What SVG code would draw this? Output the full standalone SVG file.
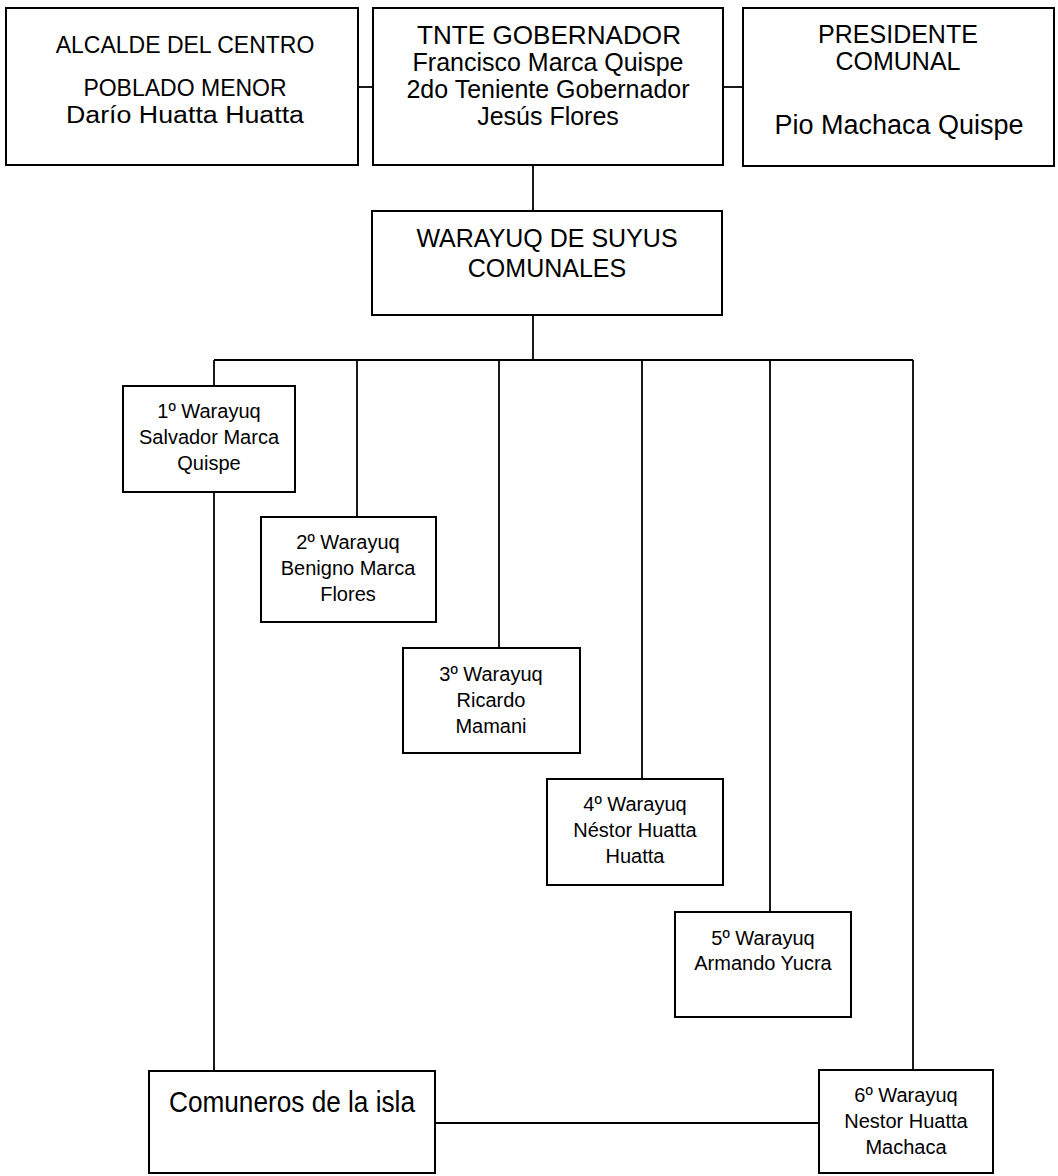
<svg xmlns="http://www.w3.org/2000/svg" width="1058" height="1176" viewBox="0 0 1058 1176">
<style>
.box{fill:#fff;stroke:#000;stroke-width:2}
.ln{fill:none;stroke:#000;stroke-width:1.8}
text{font-family:"Liberation Sans",Arial,sans-serif;fill:#000;text-anchor:middle}
.t1{font-size:23px}
.t2{font-size:25px}
.tp{font-size:27px}
.tw{font-size:20px}
.tc{font-size:30px}
</style>
<rect width="1058" height="1176" fill="#fff"/>
<g id="connectors">
<path class="ln" d="M358 87H373"/>
<path class="ln" d="M723 87H743"/>
<path class="ln" d="M533 165V211"/>
<path class="ln" d="M533 315V360"/>
<path class="ln" d="M214 360H913"/>
<path class="ln" d="M214 360V1071"/>
<path class="ln" d="M357 360V517"/>
<path class="ln" d="M499 360V648"/>
<path class="ln" d="M642 360V779"/>
<path class="ln" d="M770 360V912"/>
<path class="ln" d="M913 360V1070"/>
<path class="ln" d="M435 1123H819"/>
</g>
<g id="alcalde">
<rect class="box" x="6" y="8" width="352" height="157"/>
<text class="t1" x="185" y="53">ALCALDE DEL CENTRO</text>
<text class="t1" x="185" y="96">POBLADO MENOR</text>
<text class="t1" x="185" y="123" textLength="238" lengthAdjust="spacingAndGlyphs">Darío Huatta Huatta</text>
</g>
<g id="gobernador">
<rect class="box" x="373" y="8" width="350" height="157"/>
<text class="t2" x="549" y="44" textLength="264" lengthAdjust="spacingAndGlyphs">TNTE GOBERNADOR</text>
<text class="t2" x="548" y="71">Francisco Marca Quispe</text>
<text class="t2" x="548" y="98">2do Teniente Gobernador</text>
<text class="t2" x="548" y="125">Jesús Flores</text>
</g>
<g id="presidente">
<rect class="box" x="743" y="8" width="311" height="158"/>
<text class="t2" x="898" y="43">PRESIDENTE</text>
<text class="t2" x="898" y="70">COMUNAL</text>
<text class="tp" x="899" y="134">Pio Machaca Quispe</text>
</g>
<g id="warayuq-suyus">
<rect class="box" x="372" y="211" width="350" height="104"/>
<text class="t2" x="547" y="247">WARAYUQ DE SUYUS</text>
<text class="t2" x="547" y="277">COMUNALES</text>
</g>
<g id="w1">
<rect class="box" x="123" y="386" width="172" height="106"/>
<text class="tw" x="209" y="418">1º Warayuq</text>
<text class="tw" x="209" y="444">Salvador Marca</text>
<text class="tw" x="209" y="470">Quispe</text>
</g>
<g id="w2">
<rect class="box" x="261" y="517" width="175" height="105"/>
<text class="tw" x="348" y="549">2º Warayuq</text>
<text class="tw" x="348" y="575">Benigno Marca</text>
<text class="tw" x="348" y="601">Flores</text>
</g>
<g id="w3">
<rect class="box" x="403" y="648" width="177" height="105"/>
<text class="tw" x="491" y="681">3º Warayuq</text>
<text class="tw" x="491" y="707">Ricardo</text>
<text class="tw" x="491" y="733">Mamani</text>
</g>
<g id="w4">
<rect class="box" x="547" y="779" width="176" height="106"/>
<text class="tw" x="635" y="811">4º Warayuq</text>
<text class="tw" x="635" y="837">Néstor Huatta</text>
<text class="tw" x="635" y="863">Huatta</text>
</g>
<g id="w5">
<rect class="box" x="675" y="912" width="176" height="105"/>
<text class="tw" x="763" y="945">5º Warayuq</text>
<text class="tw" x="763" y="970">Armando Yucra</text>
</g>
<g id="w6">
<rect class="box" x="819" y="1070" width="174" height="103"/>
<text class="tw" x="906" y="1102">6º Warayuq</text>
<text class="tw" x="906" y="1128">Nestor Huatta</text>
<text class="tw" x="906" y="1154">Machaca</text>
</g>
<g id="comuneros">
<rect class="box" x="149" y="1071" width="286" height="102"/>
<text class="tc" x="292" y="1112" textLength="246" lengthAdjust="spacingAndGlyphs">Comuneros de la isla</text>
</g>
</svg>
